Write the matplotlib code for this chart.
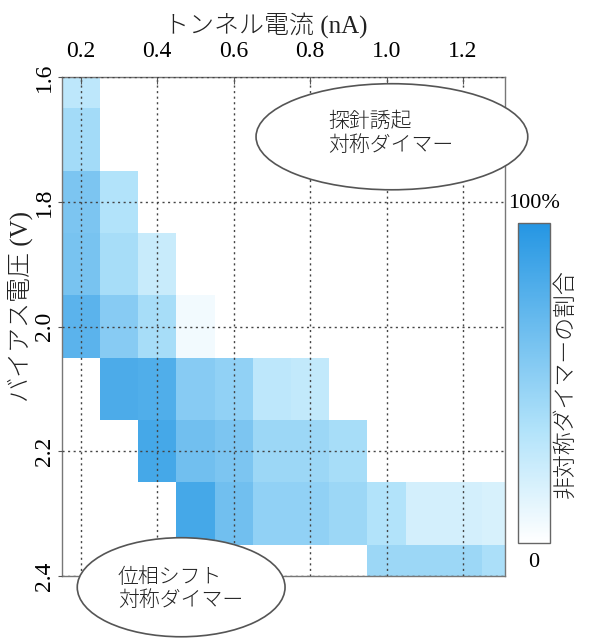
import numpy as np
import matplotlib.pyplot as plt
from matplotlib.colors import LinearSegmentedColormap
from matplotlib.patches import Ellipse

plt.rcParams['font.family'] = ['Liberation Serif', 'Noto Sans CJK JP']

# トンネル電流 (nA) と バイアス電圧 (V) の測定点
current = [0.2, 0.3, 0.4, 0.5, 0.6, 0.7, 0.8, 0.9, 1.0, 1.1, 1.2, 1.3]
voltage = [1.6, 1.7, 1.8, 1.9, 2.0, 2.1, 2.2, 2.3, 2.4]

# 非対称ダイマーの割合 (0-1), 行 = 電圧, 列 = 電流
ratio = [
    [0.30, 0.00, 0.00, 0.00, 0.00, 0.00, 0.00, 0.00, 0.00, 0.00, 0.00, 0.00],
    [0.42, 0.00, 0.00, 0.00, 0.00, 0.00, 0.00, 0.00, 0.00, 0.00, 0.00, 0.00],
    [0.60, 0.35, 0.00, 0.00, 0.00, 0.00, 0.00, 0.00, 0.00, 0.00, 0.00, 0.00],
    [0.62, 0.40, 0.25, 0.00, 0.00, 0.00, 0.00, 0.00, 0.00, 0.00, 0.00, 0.00],
    [0.75, 0.55, 0.40, 0.06, 0.00, 0.00, 0.00, 0.00, 0.00, 0.00, 0.00, 0.00],
    [0.00, 0.82, 0.80, 0.55, 0.50, 0.30, 0.28, 0.00, 0.00, 0.00, 0.00, 0.00],
    [0.00, 0.00, 0.85, 0.65, 0.60, 0.45, 0.45, 0.40, 0.00, 0.00, 0.00, 0.00],
    [0.00, 0.00, 0.00, 0.85, 0.65, 0.50, 0.50, 0.45, 0.35, 0.20, 0.20, 0.18],
    [0.00, 0.00, 0.00, 0.00, 0.00, 0.00, 0.00, 0.00, 0.45, 0.45, 0.45, 0.38],
]

x_ticks = [0.2, 0.4, 0.6, 0.8, 1.0, 1.2]
y_ticks = [1.6, 1.8, 2.0, 2.2, 2.4]

cmap = LinearSegmentedColormap.from_list(
    "wb", [(0.0, "#ffffff"), (0.35, "#b2e3fa"), (1.0, "#2596e3")])

fig = plt.figure(figsize=(5.92, 6.39), dpi=100)
ax = fig.add_axes([0.1042, 0.0986, 0.749, 0.7804])

cur = np.array(current)
vol = np.array(voltage)
x_edges = np.append(cur - 0.05, cur[-1] + 0.05)
y_edges = np.append(vol - 0.05, vol[-1] + 0.05)
mesh = ax.pcolormesh(x_edges, y_edges, np.array(ratio), cmap=cmap,
                     vmin=0, vmax=1, shading="flat")

ax.set_xlim(0.15, 1.31)
ax.set_ylim(2.4, 1.6)
ax.xaxis.tick_top()
ax.xaxis.set_label_position("top")
ax.set_xticks(x_ticks)
ax.set_xticklabels([f"{v:.1f}" for v in x_ticks])
ax.set_yticks(y_ticks)
ax.set_yticklabels([f"{v:.1f}" for v in y_ticks], rotation=90, va="center")
ax.tick_params(axis="x", direction="in", length=5, labelsize=17, pad=11,
               color="#555555")
ax.tick_params(axis="y", direction="out", length=3, labelsize=17, pad=2,
               color="#555555")
ax.set_axisbelow(False)
ax.grid(True, linestyle=(0, (1.5, 2.5)), color="#444444", linewidth=1.0)
for sp in ax.spines.values():
    sp.set_color("#777777")
    sp.set_linewidth(1.0)

ax.set_xlabel("トンネル電流 (nA)", fontsize=18, fontweight="light",
              color="#222222")
ax.xaxis.set_label_coords(0.461, 1.09)
ax.set_ylabel("バイアス電圧 (V)", fontsize=18, fontweight="light",
              color="#222222")
ax.yaxis.set_label_coords(-0.064, 0.54)

# カラーバー
cax = fig.add_axes([0.875, 0.150, 0.054, 0.501])
cb = fig.colorbar(mesh, cax=cax)
cb.set_ticks([])
cb.outline.set_edgecolor("#666666")
cb.outline.set_linewidth(1.0)
cax.text(0.5, 1.03, "100%", transform=cax.transAxes, ha="center", va="bottom",
         fontsize=16)
cax.text(0.5, -0.03, "0", transform=cax.transAxes, ha="center", va="top",
         fontsize=16)
fig.text(0.956, 0.4, "非対称ダイマーの割合", rotation=90, ha="center",
         va="center", fontsize=16.5, fontweight="light", color="#222222")

# 領域の説明
fig.add_artist(Ellipse((0.662, 0.786), 0.459, 0.166, transform=fig.transFigure,
                       facecolor="white", edgecolor="#555555", linewidth=1.2,
                       zorder=3))
fig.text(328 / 592, 0.79, "探針誘起\n対称ダイマー", ha="left", va="center",
         fontsize=15, linespacing=1.25, fontweight="light", color="#222222",
         zorder=4)
fig.add_artist(Ellipse((0.306, 0.081), 0.351, 0.155, transform=fig.transFigure,
                       facecolor="white", edgecolor="#555555", linewidth=1.2,
                       zorder=3))
fig.text(118 / 592, 0.077, "位相シフト\n対称ダイマー", ha="left", va="center",
         fontsize=15, linespacing=1.25, fontweight="light", color="#222222",
         zorder=4)

fig.savefig("out.png", dpi=100)
